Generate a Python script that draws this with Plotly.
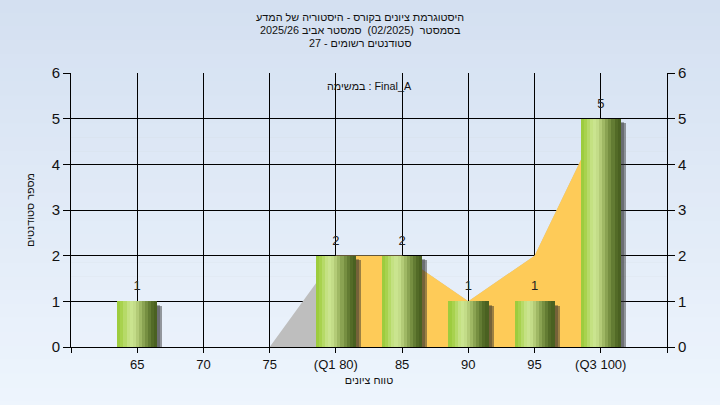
import plotly.graph_objects as go

# ---- data ----
grade_labels = ["65", "70", "75", "(Q1 80)", "85", "90", "95", "(Q3 100)"]
student_counts = [1, 0, 0, 2, 2, 1, 1, 5]
trend_all = [0, 0, 0, 2, 2, 1, 2, 5]          # grey background area
trend_iqr_labels = ["(Q1 80)", "85", "90", "95", "(Q3 100)"]
trend_iqr = [2, 2, 1, 2, 5]                   # yellow Q1..Q3 area
title_lines = [
    "היסטוגרמת ציונים בקורס - היסטוריה של המדע",
    "בסמסטר  (02/2025)  סמסטר אביב 2025/26",
    "סטודנטים רשומים - 27",
]
task_label = "במשימה : Final_A"
x_title = "טווח ציונים"
y_title = "מספר סטודנטים"

FONT = "Liberation Sans, Arial, DejaVu Sans, sans-serif"
pos = list(range(len(grade_labels)))
iqr_pos = [grade_labels.index(g) for g in trend_iqr_labels]

fig = go.Figure()

# areas (main subplot, drawn beneath the overlay)
fig.add_trace(go.Scatter(x=pos, y=trend_all, mode="lines", fill="tozeroy",
                         line=dict(width=0, color="#bebebe"), fillcolor="#bebebe",
                         hoverinfo="skip", showlegend=False))
fig.add_trace(go.Scatter(x=iqr_pos, y=trend_iqr, mode="lines", fill="tozeroy",
                         line=dict(width=0, color="#fecb58"), fillcolor="#fecb58",
                         hoverinfo="skip", showlegend=False))

# shadow (overlay subplot)
fig.add_trace(go.Bar(x=pos, y=[max(v - 0.1, 0) for v in student_counts], width=0.6,
                     offset=-0.3 + 0.08, xaxis="x2", yaxis="y2",
                     marker=dict(color="rgba(40,40,40,0.45)", line_width=0),
                     hoverinfo="skip", showlegend=False))
fig.add_trace(go.Bar(x=pos, y=[max(v - 0.08, 0) for v in student_counts], width=0.6,
                     offset=-0.3 + 0.05, xaxis="x2", yaxis="y2",
                     marker=dict(color="rgba(40,40,40,0.35)", line_width=0),
                     hoverinfo="skip", showlegend=False))

# gradient bars built from slices
slice_colors = ["#9dcc3e", "#a8d24e", "#b6da68", "#c4e182", "#cae48f", "#c3dc88",
                "#b3cb77", "#9fb864", "#8aa352", "#768f41", "#637c33", "#536b27",
                "#4a6121"]
n = len(slice_colors)
w = 0.6 / n
for i, c in enumerate(slice_colors):
    fig.add_trace(go.Bar(x=pos, y=student_counts, width=w * 1.1, offset=-0.3 + i * w,
                         xaxis="x2", yaxis="y2",
                         marker=dict(color=c, line_width=0), hoverinfo="skip",
                         showlegend=False))

# value labels
fig.add_trace(go.Scatter(x=pos, y=student_counts, mode="markers+text", xaxis="x2", yaxis="y2",
                         text=[str(v) if v > 0 else "" for v in student_counts],
                         textposition="top center", marker=dict(size=11, opacity=0),
                         textfont=dict(family=FONT, size=13, color="#222222"),
                         hoverinfo="skip", showlegend=False))

# background gradient bands
top_rgb = (212, 224, 241)
bot_rgb = (238, 245, 253)
nb = 30
for k in range(nb):
    t = k / (nb - 1)
    col = tuple(round(top_rgb[j] + (bot_rgb[j] - top_rgb[j]) * t) for j in range(3))
    fig.add_shape(type="rect", xref="paper", yref="paper", layer="below",
                  x0=-0.2, x1=1.2,
                  y0=1.27 - (k + 1) * (1.52 / nb), y1=1.27 - k * (1.52 / nb) + 0.002,
                  fillcolor="rgb(%d,%d,%d)" % col, line_width=0)

TXT = 10.8
ann = []
ys_px = [16.5, 29.5, 42.5]
for txt, yp in zip(title_lines, ys_px):
    ann.append(dict(text=txt, xref="paper", yref="paper", x=(360 - 71) / 596,
                    y=(347 - yp) / 274.5, xanchor="center", yanchor="middle",
                    showarrow=False, font=dict(family=FONT, size=TXT, color="#111111")))
ann.append(dict(text=task_label, xref="paper", yref="paper", x=0.5,
                y=(347 - 86) / 274.5, xanchor="center", yanchor="middle",
                showarrow=False, font=dict(family=FONT, size=TXT, color="#111111")))

axis_font = dict(family=FONT, size=15, color="#111111")
fig.update_layout(
    width=720, height=405,
    margin=dict(l=71, r=53, t=72.5, b=58),
    paper_bgcolor="#e0e9f6", plot_bgcolor="#b4b4b4",
    barmode="overlay", bargap=0,
    annotations=ann,
    xaxis=dict(range=[-1, 8], tickmode="array", tickvals=list(range(-1, 9)),
               ticktext=[""] + grade_labels + [""], showgrid=True, gridcolor="#000000",
               gridwidth=1, showline=True, linecolor="#000000", linewidth=1,
               ticks="outside", ticklen=5, tickcolor="#000000", zeroline=False,
               automargin=False,
               tickfont=dict(family=FONT, size=13, color="#111111"),
               title=dict(text=x_title, font=dict(family=FONT, size=TXT, color="#111111"),
                          standoff=5)),
    xaxis2=dict(range=[-1, 8], overlaying="x", visible=False, automargin=False),
    yaxis=dict(range=[0, 6], tickvals=list(range(0, 7)), showgrid=True,
               gridcolor="#000000", gridwidth=1, showline=True, linecolor="#000000",
               ticks="outside", ticklen=7, tickcolor="#000000", zeroline=False,
               automargin=False, tickfont=axis_font,
               title=dict(text=y_title, font=dict(family=FONT, size=TXT, color="#111111"),
                          standoff=14)),
    yaxis2=dict(range=[0, 6], tickvals=list(range(0, 7)), overlaying="y", side="right",
                showgrid=False, showline=True, linecolor="#000000", ticks="outside",
                ticklen=7, tickcolor="#000000", zeroline=False, automargin=False,
                tickfont=axis_font),
)

fig.write_html("out.html", config={"displayModeBar": False},
               post_script="document.body.style.margin='0';")
